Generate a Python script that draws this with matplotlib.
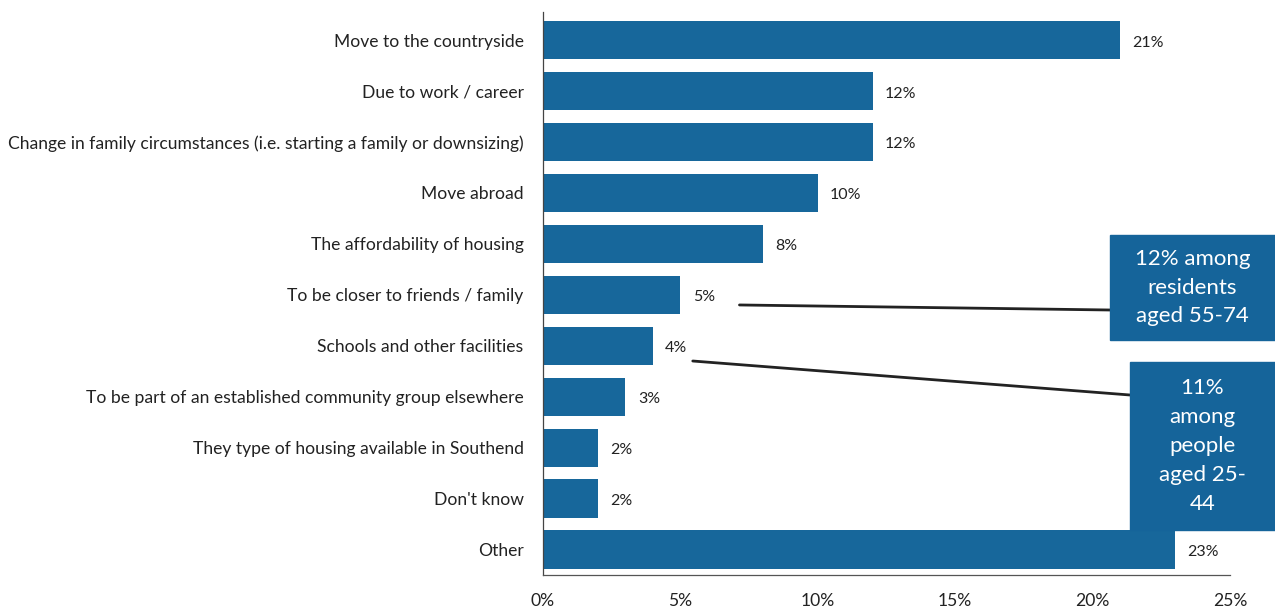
import matplotlib.pyplot as plt
from matplotlib.patches import Rectangle

reasons = [
    "Move to the countryside",
    "Due to work / career",
    "Change in family circumstances (i.e. starting a family or downsizing)",
    "Move abroad",
    "The affordability of housing",
    "To be closer to friends / family",
    "Schools and other facilities",
    "To be part of an established community group elsewhere",
    "They type of housing available in Southend",
    "Don't know",
    "Other",
]
shares = [21, 12, 12, 10, 8, 5, 4, 3, 2, 2, 23]
ticks = [0, 5, 10, 15, 20, 25]
tick_labels = ["0%", "5%", "10%", "15%", "20%", "25%"]

callout_texts = ["12% among\nresidents\naged 55-74", "11%\namong\npeople\naged 25-\n44"]

plt.rcParams['font.family'] = ['Lato', 'DejaVu Sans']
bar_col = '#17679b'
box_col = '#15649a'

fig = plt.figure(figsize=(12.75, 6.12), dpi=100)
ax = fig.add_axes([543/1275, 1 - 575/612, (1230 - 543)/1275, (575 - 12)/612])

y = list(range(len(reasons)))
ax.barh(y, shares, height=0.75, color=bar_col)
for yi, v in zip(y, shares):
    ax.text(v + 0.45, yi + 0.05, f"{v}%", va='center', ha='left', fontsize=11.5, color='#222222')

ax.set_xlim(0, 25)
ax.set_ylim(10.5, -0.55)
ax.set_yticks(y)
ax.set_yticklabels(reasons, fontsize=12.6, color='#222222')
ax.set_xticks(ticks)
ax.set_xticklabels(tick_labels, fontsize=12.6, color='#222222')
ax.tick_params(length=0)
ax.tick_params(axis='y', pad=14)
ax.tick_params(axis='x', pad=13)
ax.spines['top'].set_visible(False)
ax.spines['right'].set_visible(False)
ax.spines['left'].set_color('#444444')
ax.spines['bottom'].set_color('#555555')
ax.spines['left'].set_linewidth(0.9)
ax.spines['bottom'].set_linewidth(0.9)

# callout boxes (figure pixel coordinates) and their leader lines
W, H = 1275, 612
boxes = [(1110, 235, 1275, 340), (1130, 362, 1275, 530)]
line_starts = [(shares[5] + 2.15, 5.2), (shares[6] + 1.45, 6.3)]
line_ends = [(1110, 310), (1130, 395)]
for (x0, y0, x1, y1), txt in zip(boxes, callout_texts):
    fig.patches.append(Rectangle((x0 / W, 1 - y1 / H), (x1 - x0) / W, (y1 - y0) / H,
                                 transform=fig.transFigure, color=box_col, zorder=3))
    fig.text((x0 + x1) / 2 / W, 1 - (y0 + y1) / 2 / H, txt, color='white', fontsize=16,
             ha='center', va='center', linespacing=1.55, zorder=4)

for (sx, sy), (ex, ey) in zip(line_starts, line_ends):
    ax.annotate("", xy=(ex / W, 1 - ey / H), xycoords='figure fraction',
                xytext=(sx, sy), textcoords='data',
                arrowprops=dict(arrowstyle='-', color='#222222', lw=2,
                                shrinkA=0, shrinkB=0), annotation_clip=False)

fig.savefig("out.png", dpi=100)
